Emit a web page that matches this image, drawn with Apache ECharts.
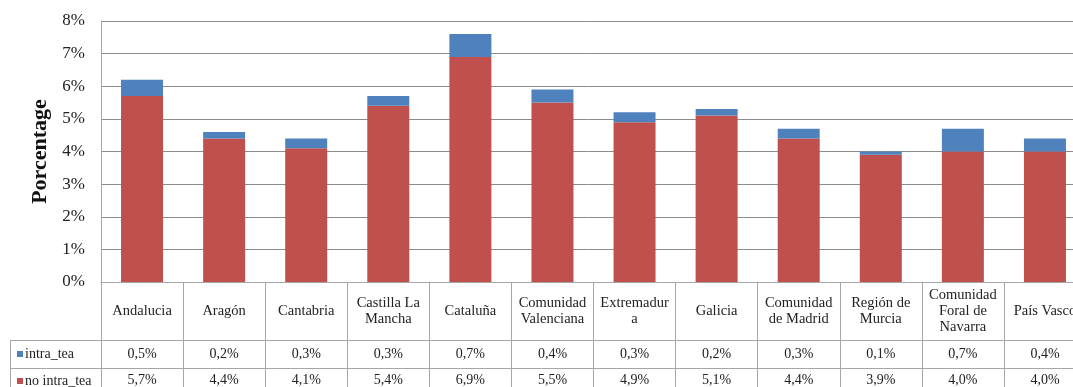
<!DOCTYPE html>
<html><head><meta charset="utf-8">
<script src="https://cdn.jsdelivr.net/npm/echarts@6/dist/echarts.min.js"></script>
<style>html,body{margin:0;padding:0;background:#fff}#c{width:1073px;height:387px}</style>
</head><body><div id="c"></div>
<script>
const categories = ['Andalucia','Aragón','Cantabria','Castilla La\nMancha','Cataluña','Comunidad\nValenciana','Extremadur\na','Galicia','Comunidad\nde Madrid','Región de\nMurcia','Comunidad\nForal de\nNavarra','País Vasco'];
const intraTea = [0.5,0.2,0.3,0.3,0.7,0.4,0.3,0.2,0.3,0.1,0.7,0.4];
const noIntraTea = [5.7,4.4,4.1,5.4,6.9,5.5,4.9,5.1,4.4,3.9,4.0,4.0];
const seriesNames = ['intra_tea','no intra_tea'];
const yMin = 0, yMax = 8, yStep = 1;

const FONT = 'Liberation Serif';
const fmt = v => v.toFixed(1).replace('.', ',') + '%';
const lineC = '#A6A6A6';

const chart = echarts.init(document.getElementById('c'));
const rowAxis = (vals, offset, margin) => ({
  type: 'category', data: categories, position: 'bottom', offset: offset,
  axisLine: {show: false}, axisTick: {show: false}, splitLine: {show: false},
  axisLabel: {interval: 0, margin: margin, verticalAlign: 'middle', fontFamily: FONT, fontSize: 14, color: '#222',
    formatter: (v, i) => fmt(vals[i])}
});
const legendItem = (name, top) => ({
  orient: 'vertical', left: 12, top: top, itemWidth: 6, itemHeight: 6,
  icon: 'rect', data: [name],
  textStyle: {fontFamily: FONT, fontSize: 14, color: '#222', padding: [0,0,0,-3]}
});
chart.setOption({
  backgroundColor: '#fff',
  animation: false,
  grid: {left: 101, top: 21, width: 985, height: 261, containLabel: false, outerBoundsMode: 'none'},
  legend: [legendItem(seriesNames[0], 342), legendItem(seriesNames[1], 369)],
  xAxis: [
    {
      type: 'category', data: categories,
      axisLine: {lineStyle: {color: lineC}},
      axisTick: {show: true, length: 110, lineStyle: {color: lineC}},
      axisLabel: {interval: 0, margin: 29, verticalAlign: 'middle', lineHeight: 16,
        fontFamily: FONT, fontSize: 14.5, color: '#222'}
    },
    rowAxis(intraTea, 58, 14),
    rowAxis(noIntraTea, 86, 12)
  ],
  yAxis: {
    type: 'value', min: yMin, max: yMax, interval: yStep,
    name: 'Porcentage', nameLocation: 'middle', nameGap: 46, nameRotate: 90,
    nameTextStyle: {fontFamily: FONT, fontSize: 22, fontWeight: 'bold', color: '#111'},
    axisLine: {show: true, lineStyle: {color: lineC}},
    axisTick: {show: false},
    splitLine: {lineStyle: {color: '#8C8C8C'}},
    axisLabel: {formatter: '{value}%', fontFamily: FONT, fontSize: 17, color: '#222', margin: 16, padding: [4, 0, 0, 0]}
  },
  series: [
    {name: seriesNames[1], type: 'bar', stack: 's', data: noIntraTea, barWidth: 42, itemStyle: {color: '#C0504D'}},
    {name: seriesNames[0], type: 'bar', stack: 's', data: intraTea, barWidth: 42, itemStyle: {color: '#4F81BD'}}
  ],
  graphic: [
    {type: 'line', shape: {x1: 10, y1: 340.5, x2: 1073, y2: 340.5}, style: {stroke: lineC, lineWidth: 1}},
    {type: 'line', shape: {x1: 10, y1: 368.5, x2: 1073, y2: 368.5}, style: {stroke: lineC, lineWidth: 1}},
    {type: 'line', shape: {x1: 10.5, y1: 340, x2: 10.5, y2: 387}, style: {stroke: lineC, lineWidth: 1}}
  ]
});
</script></body></html>
